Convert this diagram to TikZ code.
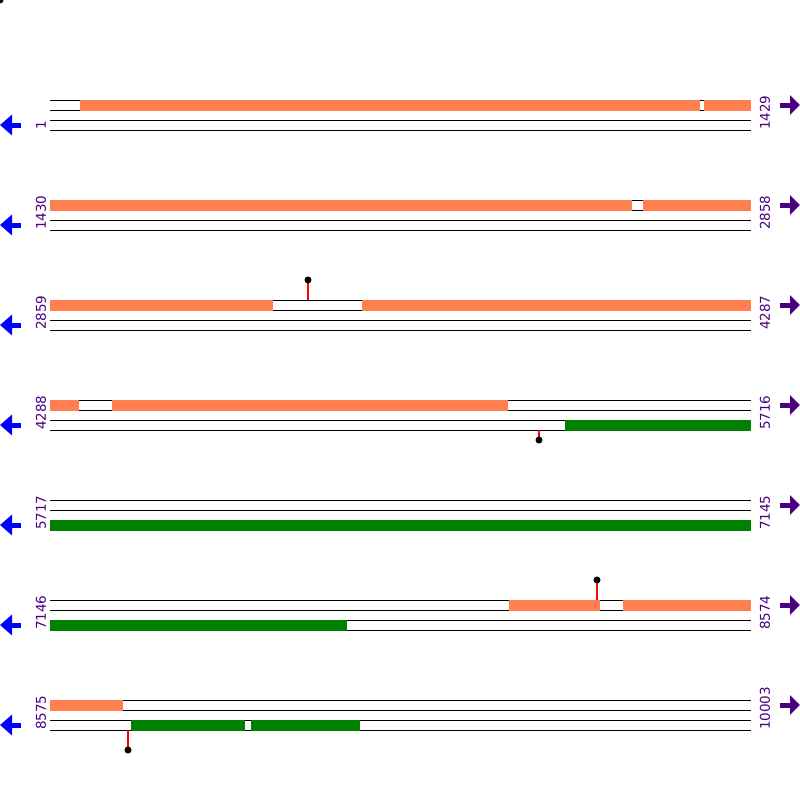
\documentclass[tikz,border=0pt]{standalone}
\usepackage{fontspec}
\setmainfont{DejaVu Sans}
\usetikzlibrary{arrows.meta}
\definecolor{coral}{RGB}{255,127,80}
\definecolor{orfgreen}{RGB}{0,128,0}
\definecolor{indig}{RGB}{75,0,130}

\begin{document}
\begin{tikzpicture}[x=1pt,y=-1pt,
     track/.style = {draw=black, line width=1pt},
     fwdorf/.style = {fill=coral},
     revorf/.style = {fill=orfgreen},
     num/.style = {rotate=90, anchor=west, text=indig, inner sep=0pt,
      font=\fontsize{13.5}{13.5}\selectfont},
     stem/.style = {draw=red, line width=1.3pt},
     site/.style = {circle, fill=black, inner sep=0pt, minimum size=7pt},
     leftarr/.style = {draw=blue, line width=5pt, -{Triangle[length=12pt,width=20pt]}},
     rightarr/.style = {draw=indig, line width=5pt, -{Triangle[length=10pt,width=19pt]}}
    ]
    \useasboundingbox (0,0) rectangle (800,800);
    \node [site] (corner) at (0,0) {};

    % track lines and strand arrows for each row
    \foreach \r in {100,200,...,700} {
      \foreach \d in {0,10,20,30}
        \draw [track] (50,\r+\d) -- (751,\r+\d);
      \coordinate (la\r) at (21,\r+25);
      \coordinate (lb\r) at (0,\r+25);
      \coordinate (ra\r) at (780,\r+5);
      \coordinate (rb\r) at (800,\r+5);
      \draw [leftarr] (la\r) -- (lb\r);
      \draw [rightarr] (ra\r) -- (rb\r);
    }

    % row labels
    \node [num] (s1) at (41,130) {1};
    \node [num] (e1) at (765,130) {1429};
    \node [num] (s2) at (41,230) {1430};
    \node [num] (e2) at (765,230) {2858};
    \node [num] (s3) at (41,330) {2859};
    \node [num] (e3) at (765,330) {4287};
    \node [num] (s4) at (41,430) {4288};
    \node [num] (e4) at (765,430) {5716};
    \node [num] (s5) at (41,530) {5717};
    \node [num] (e5) at (765,530) {7145};
    \node [num] (s6) at (41,630) {7146};
    \node [num] (e6) at (765,630) {8574};
    \node [num] (s7) at (41,730) {8575};
    \node [num] (e7) at (765,730) {10003};

    % forward frames
    \fill [fwdorf] (80,99.5) rectangle (700,110.5);
    \fill [fwdorf] (704,99.5) rectangle (751,110.5);
    \fill [fwdorf] (50,199.5) rectangle (632,210.5);
    \fill [fwdorf] (643,199.5) rectangle (751,210.5);
    \fill [fwdorf] (50,299.5) rectangle (273,310.5);
    \fill [fwdorf] (362,299.5) rectangle (751,310.5);
    \fill [fwdorf] (50,399.5) rectangle (79,410.5);
    \fill [fwdorf] (112,399.5) rectangle (508,410.5);
    \fill [fwdorf] (509,599.5) rectangle (600,610.5);
    \fill [fwdorf] (623,599.5) rectangle (751,610.5);
    \fill [fwdorf] (50,699.5) rectangle (123,710.5);

    % reverse frames
    \fill [revorf] (565,419.5) rectangle (751,430.5);
    \fill [revorf] (50,519.5) rectangle (751,530.5);
    \fill [revorf] (50,619.5) rectangle (347,630.5);
    \fill [revorf] (131,719.5) rectangle (245,730.5);
    \fill [revorf] (251,719.5) rectangle (360,730.5);

    % sites
    \coordinate (f1) at (308,300);
    \coordinate (f2) at (539,430);
    \coordinate (f3) at (597,600);
    \coordinate (f4) at (128,730);
    \coordinate (t1) at (308,280);
    \coordinate (t2) at (539,440);
    \coordinate (t3) at (597,580);
    \coordinate (t4) at (128,750);
    \draw [stem] (f1) -- (t1);
    \draw [stem] (f2) -- (t2);
    \draw [stem] (f3) -- (t3);
    \draw [stem] (f4) -- (t4);
    \node [site] (m1) at (t1) {};
    \node [site] (m2) at (t2) {};
    \node [site] (m3) at (t3) {};
    \node [site] (m4) at (t4) {};
\end{tikzpicture}
\end{document}
